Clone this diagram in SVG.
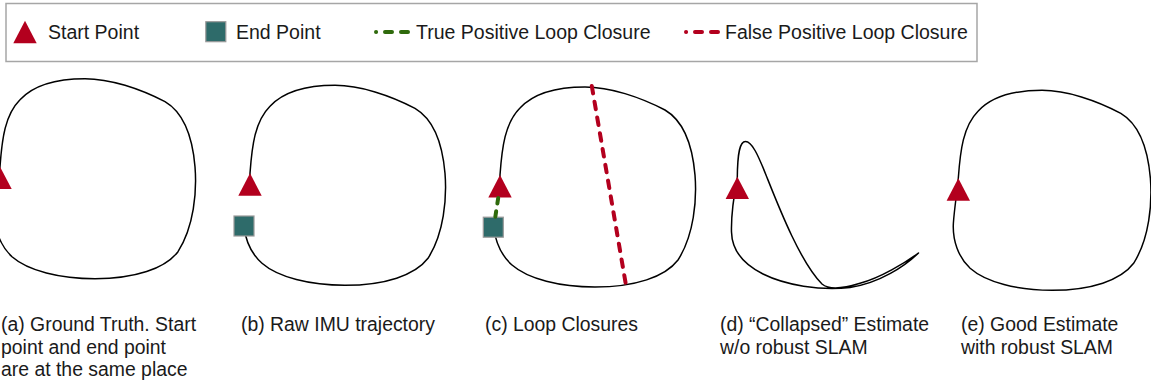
<svg xmlns="http://www.w3.org/2000/svg" width="1151" height="388" viewBox="0 0 1151 388">
<style>
text{font-family:"Liberation Sans",Arial,Helvetica,sans-serif;fill:#1a1a1a}
.leg{font-size:19.5px}
.cap{font-size:19.4px}
.traj{fill:none;stroke:#000;stroke-width:1.5;stroke-linejoin:round}
.start{fill:#b3001e}
.end{fill:#2e6b6a;stroke:#9a9a9a;stroke-width:1.2}
.tp{fill:none;stroke:#2f6a0c;stroke-width:4;stroke-linecap:round}
.fp{fill:none;stroke:#b3001e;stroke-width:4;stroke-linecap:round}
</style>
<defs>
<path id="tri" d="M0,0 L11.7,22.4 L-11.7,22.4 Z"/>
<rect id="sq" x="-10" y="-10" width="20" height="20"/>
<path id="loopClosed" d="M0,0 C2,-28 5,-52 20,-67 C33,-81 55,-88 85,-88 C110,-88 140,-78 165,-65 C182,-55 192,-35 195,0 C197,25 194,60 178,85 C165,102 135,112 95,112 C60,112 28,104 12,90 C0,79 -6,62 -5,45 C-4,30 -1,12 0,0 Z"/>
<path id="loopOpen" d="M0,8 L0,0 C2,-28 5,-52 20,-67 C33,-81 55,-88 85,-88 C110,-88 140,-78 165,-65 C182,-55 192,-35 195,0 C197,25 194,60 178,85 C165,102 135,112 95,112 C60,112 28,104 12,90 C3,82 -4,70 -6.3,52.5"/>
</defs>

<g id="legend">
<rect x="6" y="3.5" width="971" height="58" fill="#fff" stroke="#a6a6a6" stroke-width="1.5"/>
<use href="#tri" class="start" x="25" y="20.8"/>
<text class="leg" x="48" y="39">Start Point</text>
<rect class="end" x="205.8" y="21.7" width="20" height="20"/>
<text class="leg" x="236" y="39">End Point</text>
<line class="tp" x1="376" y1="32" x2="409" y2="32" stroke-dasharray="0.1 8.9 7 9 7 100"/>
<text class="leg" x="416" y="39">True Positive Loop Closure</text>
<line class="fp" x1="686" y1="32" x2="719" y2="32" stroke-dasharray="0.1 8.9 7 9 7 100"/>
<text class="leg" x="725" y="39">False Positive Loop Closure</text>
</g>

<g id="panel-a">
<use href="#loopClosed" class="traj" transform="translate(0,166.7)"/>
<use href="#tri" class="start" x="0" y="166.7"/>
<text class="cap" x="1" y="331">(a) Ground Truth. Start</text>
<text class="cap" x="1" y="353.5">point and end point</text>
<text class="cap" x="1" y="376">are at the same place</text>
</g>

<g id="panel-b">
<use href="#loopOpen" class="traj" transform="translate(250,173.3)"/>
<use href="#tri" class="start" x="250" y="173.3"/>
<rect class="end" x="234" y="216" width="20" height="20"/>
<text class="cap" x="241" y="331">(b) Raw IMU trajectory</text>
</g>

<g id="panel-c">
<use href="#loopOpen" class="traj" transform="translate(500,175)"/>
<use href="#tri" class="start" x="500" y="175"/>
<rect class="end" x="483.3" y="217.2" width="20" height="20"/>
<text class="cap" x="485" y="331">(c) Loop Closures</text>
</g>

<g id="panel-d">
<path class="traj" d="M737.3,178 C737.5,152 740,141.5 745.5,141.5 C752,141.5 758,155 766,175 C778,205 800,262 822,284 C830,291 845,288 860,283.3 C880,278 905,263 918.5,253 C905,266 880,283 850,287.5 C820,291 785,285 763,274 C745,265 732,252 731.5,232 C731,215 734,195 737.3,178 Z"/>
<use href="#tri" class="start" x="737.3" y="176.7"/>
<text class="cap" x="720" y="331">(d) “Collapsed” Estimate</text>
<text class="cap" x="720" y="353.5">w/o robust SLAM</text>
</g>

<g id="panel-e">
<use href="#loopClosed" class="traj" transform="translate(958.3,178.3) scale(0.985,1)"/>
<use href="#tri" class="start" x="958.3" y="178.3"/>
<text class="cap" x="961" y="331">(e) Good Estimate</text>
<text class="cap" x="961" y="353.5">with robust SLAM</text>
</g>

<g id="connectors">
<line class="tp" x1="498.2" y1="198" x2="495.3" y2="217" stroke-dasharray="5.5 8"/>
<line class="fp" x1="591.8" y1="86" x2="625.6" y2="283" stroke-dasharray="7.5 8.5"/>
</g>
</svg>
